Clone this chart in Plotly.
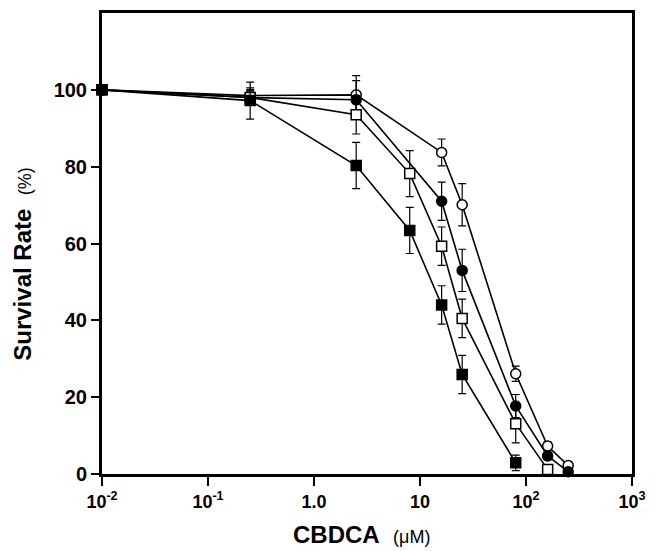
import plotly.graph_objects as go

# Doses (uM)
dose_circles = [0.01, 0.25, 2.5, 16, 25, 80, 160, 250]
dose_open_sq = [0.01, 0.25, 2.5, 8, 16, 25, 80, 160]
dose_fill_sq = [0.01, 0.25, 2.5, 8, 16, 25, 80]

# Survival rate (%)
open_circle = [100, 98.5, 98.7, 83.7, 70.1, 26.1, 7.3, 2.2]
open_circle_err = [0, 2, 5, 3.5, 5.5, 2, 1, 1]
filled_circle = [100, 98, 97.4, 71, 53, 17.7, 4.7, 0.6]
filled_circle_err = [0, 2, 5, 5, 5.5, 3, 1, 0.5]
open_square = [100, 98, 93.5, 78.2, 59.3, 40.5, 13.1, 1.2]
open_square_err = [0, 2, 5, 6, 5, 5, 5, 1]
filled_square = [100, 97.2, 80.3, 63.4, 44, 25.9, 2.9]
filled_square_err = [0, 4.8, 6, 6, 5, 5, 2]

x_tickvals = [0.01, 0.1, 1, 10, 100, 1000]
x_ticktext = ["10<sup>-2</sup>", "10<sup>-1</sup>", "1.0", "10", "10<sup>2</sup>", "10<sup>3</sup>"]
y_tickvals = [0, 20, 40, 60, 80, 100]

series = [
    (dose_circles, open_circle, open_circle_err, "circle", "white"),
    (dose_circles, filled_circle, filled_circle_err, "circle", "black"),
    (dose_open_sq, open_square, open_square_err, "square", "white"),
    (dose_fill_sq, filled_square, filled_square_err, "square", "black"),
]

fig = go.Figure()
for xs, ys, es, sym, fill in series:
    fig.add_trace(go.Scatter(
        x=xs, y=ys, mode="lines+markers",
        line=dict(color="black", width=1.6),
        marker=dict(symbol=sym, size=10, color=fill, line=dict(color="black", width=1.5)),
        error_y=dict(type="data", array=es, visible=True, color="black", thickness=1.2, width=4),
        cliponaxis=False, showlegend=False,
    ))

font_family = "Liberation Sans, Arial, sans-serif"
fig.update_layout(
    width=656, height=551,
    margin=dict(l=102, r=22, t=10, b=77),
    paper_bgcolor="white", plot_bgcolor="white",
    font=dict(family=font_family, color="black"),
    annotations=[
        dict(text="<b>Survival Rate</b>  <span style='font-size:18px'>(%)</span>",
             xref="paper", yref="paper", x=-0.150, y=0.455,
             xanchor="center", yanchor="middle", textangle=-90,
             showarrow=False, font=dict(size=24)),
        dict(text="<b>CBDCA</b>  <span style='font-size:18px'>(μM)</span>",
             xref="paper", yref="paper", x=0.49, y=-0.131,
             xanchor="center", yanchor="middle",
             showarrow=False, font=dict(size=24)),
    ],
)
fig.update_xaxes(
    type="log", range=[-2, 3],
    tickvals=x_tickvals, ticktext=x_ticktext,
    ticks="outside", ticklen=9, tickwidth=2, tickcolor="black",
    showline=True, linewidth=3, linecolor="black", mirror=True,
    showgrid=False, zeroline=False, ticklabeloverflow="allow",
    tickfont=dict(size=18, weight="bold"),
)
fig.update_yaxes(
    range=[0, 120],
    tickvals=y_tickvals,
    ticks="outside", ticklen=8, tickwidth=2, tickcolor="black",
    showline=True, linewidth=3, linecolor="black", mirror=True,
    showgrid=False, zeroline=False,
    tickfont=dict(size=20, weight="bold"),
)

fig.write_html("out.html", config={"displayModeBar": False},
               post_script="document.body.style.margin='0';")
